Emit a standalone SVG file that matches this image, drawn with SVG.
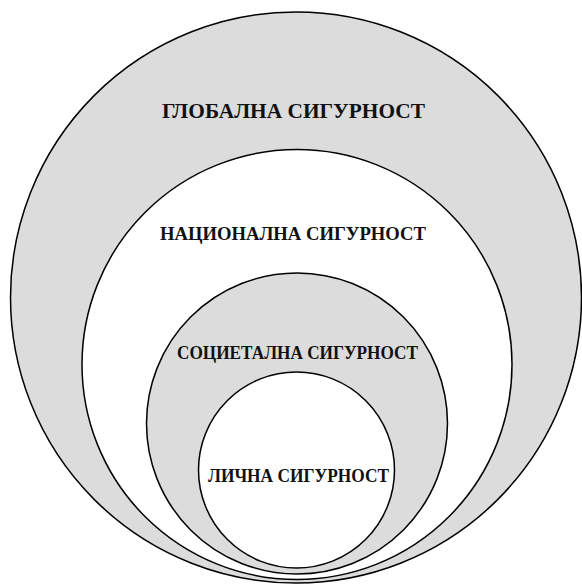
<svg xmlns="http://www.w3.org/2000/svg" width="582" height="584" viewBox="0 0 582 584">
  <style>
    .ring { stroke: #000; stroke-width: 1.5; }
    .grey { fill: #dcdcdc; }
    .white { fill: #fff; }
    .label { font-family: "Liberation Serif", "Times New Roman", serif; font-weight: bold; fill: #111; text-anchor: middle; }
  </style>
  <rect width="582" height="584" fill="#fff"/>

  <!-- nested security levels, outermost first -->
  <g id="global">
    <circle class="ring grey" cx="296" cy="297.5" r="285.5"/>
    <text class="label" x="293.5" y="118" font-size="22" textLength="263" lengthAdjust="spacingAndGlyphs">ГЛОБАЛНА СИГУРНОСТ</text>
  </g>

  <g id="national">
    <circle class="ring white" cx="297" cy="364.5" r="215"/>
    <text class="label" x="293" y="240" font-size="19.5" textLength="266" lengthAdjust="spacingAndGlyphs">НАЦИОНАЛНА СИГУРНОСТ</text>
  </g>

  <g id="societal">
    <circle class="ring grey" cx="297" cy="423.5" r="150.5"/>
    <text class="label" x="297.5" y="359" font-size="18" textLength="241" lengthAdjust="spacingAndGlyphs">СОЦИЕТАЛНА СИГУРНОСТ</text>
  </g>

  <g id="personal">
    <circle class="ring white" cx="296.5" cy="470" r="98"/>
    <text class="label" x="298.5" y="482" font-size="18.5" textLength="181" lengthAdjust="spacingAndGlyphs">ЛИЧНА СИГУРНОСТ</text>
  </g>
</svg>
